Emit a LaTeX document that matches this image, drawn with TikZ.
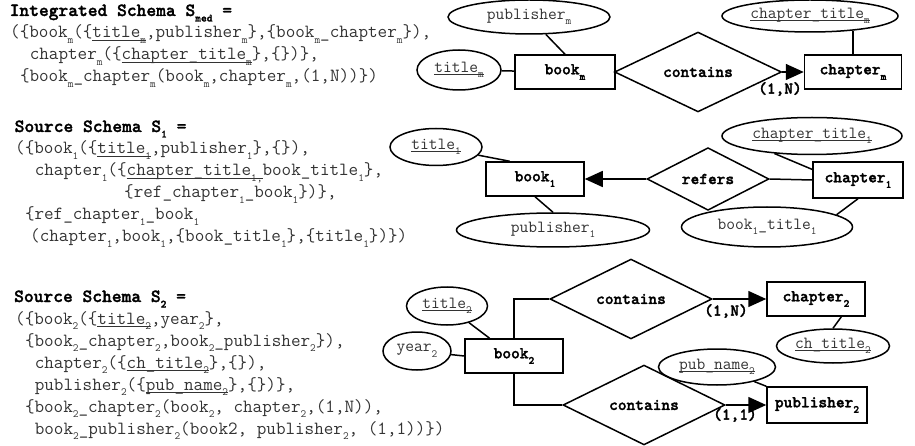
\documentclass[tikz,border=0pt]{standalone}
\usepackage{fontspec}
\usetikzlibrary{shapes.geometric,arrows.meta}
\newfontfamily\bcour{lmmonolt10-bold.otf}[FakeBold=1.6]
\newcommand{\lo}[1]{\raisebox{-5.5pt}{\fontsize{11}{11}\selectfont #1}}
\newcommand{\key}[1]{\setbox0\hbox{#1}\rlap{\rule[-2.4pt]{\wd0}{0.6pt}}\box0}
\tikzset{
    TX/.style ={anchor=base west, inner sep=0pt, text=black!80, font=\ttfamily\fontsize{18.6}{22}\selectfont},
    HD/.style ={TX, text=black, font=\bcour\fontsize{18.6}{22}\selectfont},
    EL/.style ={ellipse, draw, line width=1.5pt, inner sep=0pt, text=black!80, font=\ttfamily\fontsize{17}{20}\selectfont},
    RE/.style ={rectangle, draw, line width=1.5pt, minimum width=98pt, minimum height=34pt, inner sep=1pt, font=\bcour\fontsize{16.6}{19}\selectfont},
    DI/.style ={diamond, draw, line width=1.5pt, inner sep=0pt, font=\bcour\fontsize{16.6}{19}\selectfont},
    CA/.style ={inner sep=0pt, font=\bcour\fontsize{16.6}{19}\selectfont},
    LN/.style ={line width=1.5pt},
    AR/.style ={line width=1.5pt, -{Triangle[length=18pt,width=16pt]}}}

\begin{document}
\begin{tikzpicture}[x=1pt,y=-1pt]
        \useasboundingbox (0,0) rectangle (915,446);
        % schema texts
        \node[HD] (h1) at(9.5,16){Integrated Schema S\lo{med} =};
        \node[TX] (m1) at(10,38){(\{book\lo{m}(\{\key{title\lo{m}},publisher\lo{m}\},\{book\lo{m}\_chapter\lo{m}\}),};
        \node[TX] (m2) at(29.6,60){chapter\lo{m}(\{\key{chapter\_title\lo{m}}\},\{\})\},};
        \node[TX] (m3) at(19.8,82){\{book\lo{m}\_chapter\lo{m}(book\lo{m},chapter\lo{m},(1,N))\})};
        \node[HD] (h2) at(14.5,132){Source Schema S\lo{1} =};
        \node[TX] (a1) at(15,154){(\{book\lo{1}(\{\key{title\lo{1}},publisher\lo{1}\},\{\}),};
        \node[TX] (a2) at(34.6,176){chapter\lo{1}(\{\key{chapter\_title\lo{1,}}book\_title\lo{1}\},};
        \node[TX] (a3) at(124,198){\{ref\_chapter\lo{1}\_book\lo{1}\})\},};
        \node[TX] (a4) at(24.8,220){\{ref\_chapter\lo{1}\_book\lo{1}};
        \node[TX] (a5) at(30,242){(chapter\lo{1},book\lo{1},\{book\_title\lo{1}\},\{title\lo{1}\})\})};
        \node[HD] (h3) at(14,302){Source Schema S\lo{2} =};
        \node[TX] (b1) at(15,324){(\{book\lo{2}(\{\key{title\lo{2}},year\lo{2}\},};
        \node[TX] (b2) at(24.8,346){\{book\lo{2}\_chapter\lo{2},book\lo{2}\_publisher\lo{2}\}),};
        \node[TX] (b3) at(34.6,368){chapter\lo{2}(\{\key{ch\_title\lo{2}}\},\{\}),};
        \node[TX] (b4) at(34.6,390){publisher\lo{2}(\{\key{pub\_name\lo{2}}\},\{\})\},};
        \node[TX] (b5) at(24.8,412){\{book\lo{2}\_chapter\lo{2}(book\lo{2}, chapter\lo{2},(1,N)),};
        \node[TX] (b6) at(34.6,434){book\lo{2}\_publisher\lo{2}(book2, publisher\lo{2}, (1,1))\})};
        % integrated schema
        \node[EL, minimum width=162pt, minimum height=34pt] (pubm) at(529,17){publisher\lo{m}};
        \node[EL, minimum width=84pt, minimum height=40pt] (titm) at(459,70){\key{title\lo{m}}};
        \node[RE, minimum width=100pt] (bookm) at(565,72){book\lo{m}};
        \node[DI, minimum width=167pt, minimum height=62pt] (conm) at(698,72){contains};
        \node[RE, minimum width=97pt] (chapm) at(853,72){chapter\lo{m}};
        \node[EL, minimum width=176pt, minimum height=32pt] (ctm) at(810,16){\key{chapter\_title\lo{m}}};
        \node[CA] (cam) at(780,89){(1,N)};
        \draw[LN] (pubm) -- (bookm.north);
        \draw[LN] (titm) -- (bookm);
        \draw[LN] (bookm.east) -- (conm.west);
        \draw[AR] (conm.east) -- (chapm.west);
        \draw[LN, shorten >=-2pt] (chapm.north) -- (chapm.north |- ctm.south);
        % source schema 1
        \node[EL, minimum width=92pt, minimum height=37pt] (tit1) at(436,147){\key{title\lo{1}}};
        \node[RE] (book1) at(535,179){book\lo{1}};
        \node[EL, minimum width=193pt, minimum height=34pt] (pub1) at(553,230){publisher\lo{1}};
        \node[DI, minimum width=122pt, minimum height=47pt] (ref1) at(708,179){refers};
        \node[RE, minimum width=90pt, minimum height=36pt] (chap1) at(858,180){chapter\lo{1}};
        \node[EL, minimum width=180pt, minimum height=37pt] (ct1) at(812,136){\key{chapter\_title\lo{1}}};
        \node[EL, minimum width=171pt, minimum height=40pt] (bt1) at(767,227){book\lo{1}\_title\lo{1}};
        \draw[LN] (tit1) -- (book1.145);
        \draw[LN] (book1.south) -- (pub1.north);
        \draw[AR] (ref1.west) -- (book1.east);
        \draw[LN] (ref1.east) -- (chap1.west);
        \draw[LN] (ct1.205) -- (chap1.167);
        \draw[LN] (chap1.south) -- (bt1.10);
        % source schema 2
        \node[EL, minimum width=81pt, minimum height=38pt] (tit2) at(447,306){\key{title\lo{2}}};
        \node[EL, minimum width=68pt, minimum height=38pt] (year2) at(417,351){year\lo{2}};
        \node[RE] (book2) at(514,356){book\lo{2}};
        \node[DI, minimum width=162pt, minimum height=48pt] (con2a) at(631,299){contains};
        \node[RE] (chap2) at(816,299){chapter\lo{2}};
        \node[EL, minimum width=113pt, minimum height=34pt] (cht2) at(833,346){\key{ch\_title\lo{2}}};
        \node[EL, minimum width=117pt, minimum height=36pt] (pn2) at(717,367){\key{pub\_name\lo{2}}};
        \node[RE, minimum width=100pt, minimum height=36pt] (pub2) at(817,405){publisher\lo{2}};
        \node[DI, minimum width=162pt, minimum height=47pt] (con2b) at(644,405){contains};
        \node[CA] (ca2a) at(726,311){(1,N)};
        \node[CA] (ca2b) at(735,415){(1,1)};
        \draw[LN] (tit2) -- (book2.144);
        \draw[LN] (year2) -- (book2.west);
        \draw[LN] (book2.north) |- (con2a.west);
        \draw[AR] (con2a.east) -- (chap2.west);
        \draw[LN] (chap2.-35) -- (cht2.north);
        \draw[LN] (pn2) -- (pub2.north west);
        \draw[LN] (book2.south) |- (con2b.west);
        \draw[AR] (con2b.east) -- (pub2.west);
    \end{tikzpicture}
\end{document}
